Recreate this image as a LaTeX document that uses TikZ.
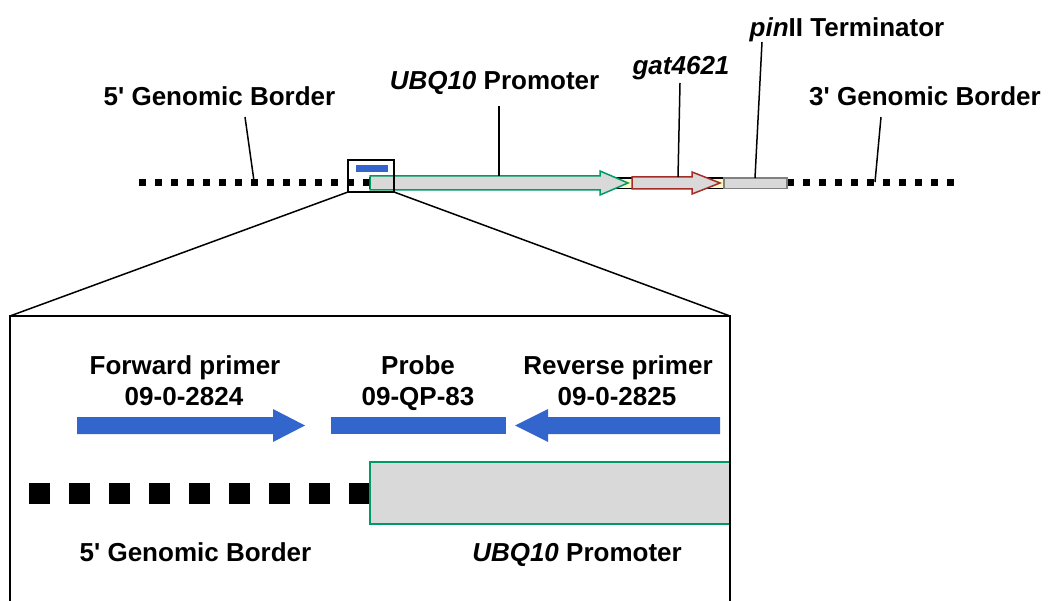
\documentclass[tikz,border=0pt]{standalone}
\usepackage{fontspec}
\setmainfont{Liberation Sans}[Ligatures=TeXOff]
\definecolor{pgray}{RGB}{217,217,217}
\definecolor{pgreen}{RGB}{0,155,100}
\definecolor{pred}{RGB}{165,45,40}
\definecolor{pblue}{RGB}{51,102,204}
\definecolor{pyellow}{RGB}{255,250,200}
\begin{document}
\begin{tikzpicture}[x=1pt,y=-1pt,
  lab/.style={font=\fontsize{26}{30}\selectfont\bfseries, inner sep=0pt, anchor=base},
  leader/.style={draw=black, line width=1.5pt},
  topdots/.style={line width=7pt, dash pattern=on 7pt off 9pt},
  botdots/.style={line width=21pt, dash pattern=on 21pt off 19pt},
  gene/.style={fill=pgray, line width=1.5pt, line join=miter},
  frame/.style={draw=black, line width=2pt}]
\useasboundingbox (0,0) rectangle (1048,601);

% ---- top construct ----
\draw[topdots] (139,183) -- (372,183);
\draw[topdots] (787,183) -- (958,183);
\draw[line width=1.5pt, fill=pyellow] (370,178) rectangle (787,188.5);
\draw[gene, draw=pgreen] (370,176) -- (600,176) -- (600,171) -- (628,183) -- (600,195) -- (600,190) -- (370,190) -- cycle;
\draw[gene, draw=pred] (632,177) -- (692,177) -- (692,172) -- (720,183) -- (692,194) -- (692,189) -- (632,189) -- cycle;
\draw[fill=pgray, draw=gray, line width=1.2pt] (724,178) rectangle (787,188.5);
\fill[pblue] (356,165) rectangle (388,172);
\draw[frame] (348,160) rectangle (394,192);
\coordinate (sbl) at (348,192);
\coordinate (sbr) at (394,192);

% ---- top labels ----
\node[lab] (l5) at (219.5,106) {5' Genomic Border};
\node[lab] (lubq) at (494.5,90) {\itshape UBQ10\upshape\ Promoter};
\node[lab] (lgat) at (681,75) {\itshape gat4621};
\node[lab] (lpin) at (847,37) {\itshape pin\upshape II Terminator};
\node[lab] (l3) at (925,106) {3' Genomic Border};

\coordinate (a5) at (245,117);   \coordinate (b5) at (254,181);
\coordinate (aubq) at (499,106); \coordinate (bubq) at (499,176);
\coordinate (agat) at (680,83);  \coordinate (bgat) at (678,177);
\coordinate (apin) at (762,42);  \coordinate (bpin) at (755,178);
\coordinate (a3) at (881,117);   \coordinate (b3) at (875,182);
\draw[leader] (a5) -- (b5);
\draw[leader] (aubq) -- (bubq);
\draw[leader] (agat) -- (bgat);
\draw[leader] (apin) -- (bpin);
\draw[leader] (a3) -- (b3);

% ---- zoom box ----
\draw[botdots] (29,493.5) -- (372,493.5);
\draw[fill=pgray, draw=pgreen, line width=2pt] (369.5,462) rectangle (730,524);
\coordinate (ztl) at (10,316);
\coordinate (ztr) at (730,316);
\draw[frame, line join=miter] (10,603) -- (ztl) -- (ztr) -- (730,603);
\draw[line width=1.5pt] (sbl) -- (ztl);
\draw[line width=1.5pt] (sbr) -- (ztr);

\fill[pblue] (77,417) -- (273,417) -- (273,409) -- (305,425.5) -- (273,442) -- (273,434) -- (77,434) -- cycle;
\fill[pblue] (331,417) rectangle (506,434);
\fill[pblue] (720,417) -- (548,417) -- (548,409) -- (515,425.5) -- (548,442) -- (548,434) -- (720,434) -- cycle;

\node[lab] (f1) at (185,374) {Forward primer};
\node[lab] (f2) at (184,405) {09-0-2824};
\node[lab] (p1) at (418,374) {Probe};
\node[lab] (p2) at (418,405) {09-QP-83};
\node[lab] (r1) at (618,374) {Reverse primer};
\node[lab] (r2) at (617,405) {09-0-2825};
\node[lab] (b5l) at (195.5,561) {5' Genomic Border};
\node[lab] (bubql) at (577,561) {\itshape UBQ10\upshape\ Promoter};
\end{tikzpicture}
\end{document}
